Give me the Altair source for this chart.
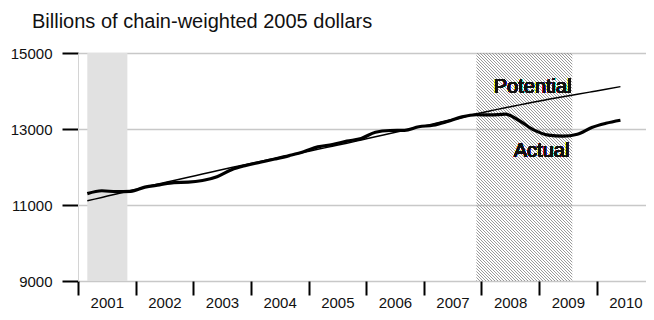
import altair as alt
import pandas as pd
import numpy as np

# ---- data ----
dates = [
    "2001-03-01", "2001-06-01", "2001-09-01", "2001-12-01",
    "2002-03-01", "2002-06-01", "2002-09-01", "2002-12-01",
    "2003-03-01", "2003-06-01", "2003-09-01", "2003-12-01",
    "2004-03-01", "2004-06-01", "2004-09-01", "2004-12-01",
    "2005-03-01", "2005-06-01", "2005-09-01", "2005-12-01",
    "2006-03-01", "2006-06-01", "2006-09-01", "2006-12-01",
    "2007-03-01", "2007-06-01", "2007-09-01", "2007-12-01",
    "2008-03-01", "2008-06-01", "2008-09-01", "2008-12-01",
    "2009-03-01", "2009-06-01", "2009-09-01", "2009-12-01",
    "2010-03-01", "2010-06-01",
]
actual = [
    11300, 11375, 11350, 11360,
    11470, 11530, 11590, 11600,
    11645, 11745, 11930, 12040,
    12125, 12210, 12300, 12400,
    12530, 12590, 12680, 12750,
    12915, 12960, 12965, 13060,
    13100, 13200, 13320, 13375,
    13370, 13390, 13210, 12970,
    12840, 12810, 12860, 13040,
    13150, 13230,
]
potential = [
    11110, 11200, 11290, 11380,
    11470, 11560, 11645, 11730,
    11815, 11900, 11985, 12065,
    12145, 12225, 12305, 12385,
    12465, 12545, 12625, 12710,
    12795, 12880, 12965, 13050,
    13135, 13220, 13305, 13400,
    13480, 13560, 13635, 13710,
    13780, 13850, 13915, 13980,
    14045, 14115,
]
rec1_start, rec1_end = ["2001-03-01"], ["2001-11-10"]
rec2_start, rec2_end = ["2007-12-01"], ["2009-07-31"]
year_ticks = list(range(2001, 2011))
y_ticks = [9000, 11000, 13000, 15000]

FONT = "Liberation Sans"
W, H = 568, 228
PX_PER_YEAR = 57.6

df = pd.DataFrame({"date": dates, "actual": actual, "potential": potential})
rec1 = pd.DataFrame({"start": rec1_start, "end": rec1_end})
rec2 = pd.DataFrame({"start": rec2_start, "end": rec2_end})

def dt(y, m=1, d=1):
    return alt.DateTime(year=y, month=m, date=d, utc=True)

xscale = alt.Scale(type="utc", domain=[dt(2001), dt(2010, 11, 10)])
yscale = alt.Scale(domain=[9000, 15000], nice=False, zero=False)

x_axis = alt.Axis(
    values=[dt(y) for y in year_ticks],
    labelExpr="utcFormat(datum.value, '%Y')",
    tickSize=14, tickWidth=2, tickColor="black",
    domain=False, grid=False, labelOffset=28.8, labelFlush=False,
    labelOverlap=False, labelPadding=0, labelFont=FONT, labelFontSize=15,
    labelColor="#111", title=None,
)
y_axis = alt.Axis(
    values=y_ticks, format="d", tickSize=16, tickWidth=2, tickColor="black",
    domainColor="#d4d4d4", domainWidth=1, gridColor="#c8c8c8", gridWidth=1.6,
    labelFont=FONT, labelFontSize=15, labelPadding=10, labelColor="#111",
    title=None,
)

# diagonal hatch via a striped linear gradient (period exact in pixels)
band_w = (2009.58 - 2007.92) * PX_PER_YEAR
band_h = float(H)
s = (band_w + band_h) / (band_w ** 2 + band_h ** 2)
L = (band_w + band_h) / np.sqrt(2)
period = 3.0 / np.sqrt(2)
n = int(np.ceil(L / period))
k = n * period / L
gx2, gy2 = k * s * band_w, 1 - k * s * band_h
line_c, gap_c = "#9a9a9a", "rgba(255,255,255,0)"
stops = []
for i in range(n):
    a, b, c = i / n, (i + 0.33) / n, (i + 1) / n
    stops += [
        alt.GradientStop(offset=a, color=line_c),
        alt.GradientStop(offset=b, color=line_c),
        alt.GradientStop(offset=b, color=gap_c),
        alt.GradientStop(offset=c, color=gap_c),
    ]
hatch = alt.LinearGradient(gradient="linear", stops=stops, x1=0, y1=1, x2=gx2, y2=gy2)

band1 = alt.Chart(rec1).mark_rect(color="#e1e1e1").encode(
    x=alt.X("start:T", scale=xscale, axis=x_axis),
    x2="end:T",
    y=alt.value(0), y2=alt.value(H),
)
band2 = alt.Chart(rec2).mark_rect(fill=hatch, strokeWidth=0).encode(
    x=alt.X("start:T", scale=xscale),
    x2="end:T",
    y=alt.value(0), y2=alt.value(H),
)

pot_line = alt.Chart(df).mark_line(color="black", strokeWidth=1.5, interpolate="monotone").encode(
    x=alt.X("date:T", scale=xscale),
    y=alt.Y("potential:Q", scale=yscale, axis=y_axis),
)
act_line = alt.Chart(df).mark_line(color="black", strokeWidth=3.2, interpolate="monotone").encode(
    x=alt.X("date:T", scale=xscale),
    y=alt.Y("actual:Q", scale=yscale),
)

pot_text = alt.Chart(df).mark_text(
    text="Potential", font=FONT, fontSize=20, align="left", baseline="alphabetic", color="#111"
).encode(x=alt.datum(dt(2008, 3, 20)), y=alt.datum(13954))
act_text = alt.Chart(df).mark_text(
    text="Actual", font=FONT, fontSize=20, align="left", baseline="alphabetic", color="#111"
).encode(x=alt.datum(dt(2008, 7, 25)), y=alt.datum(12255))

chart = alt.layer(band1, band2, pot_line, act_line, pot_text, act_text).properties(
    width=W, height=H,
    autosize=alt.AutoSizeParams(type="none"),
    padding={"left": 70, "top": 45, "right": 0, "bottom": 29},
    title=alt.TitleParams(
        "Billions of chain-weighted 2005 dollars",
        anchor="start", frame="group", font=FONT, fontSize=20,
        fontWeight="normal", color="#111", baseline="alphabetic",
        dx=-46, offset=-2,
    ),
).configure_view(stroke=None)

chart.save("out.html", embed_options={"renderer": "svg", "actions": False})
